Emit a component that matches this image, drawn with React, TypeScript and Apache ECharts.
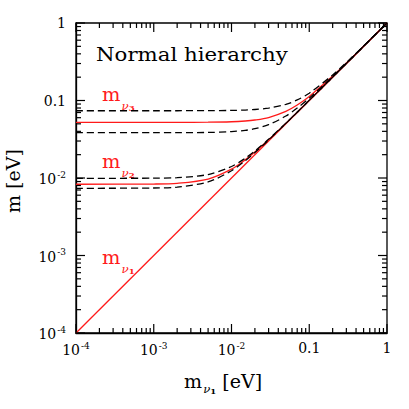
import React, { useEffect, useRef } from "react";
import * as echarts from "echarts";

const X_MIN = 1e-4;
const X_MAX = 1;
const Y_MIN = 1e-4;
const Y_MAX = 1;

const xs = [1e-4, 1e-3, 2e-3, 5e-3, 1e-2, 1.5e-2, 2e-2, 3e-2, 5e-2, 7e-2, 0.1, 0.2, 0.3, 0.5, 1];

const m3Mid = [0.0523, 0.0523, 0.0523, 0.0525, 0.0532, 0.0544, 0.056, 0.0603, 0.0724, 0.0874, 0.1128, 0.2067, 0.3045, 0.5027, 1.0007];
const m3Up = [0.0738, 0.0738, 0.0738, 0.074, 0.0745, 0.0753, 0.0765, 0.0797, 0.0891, 0.1017, 0.1243, 0.2132, 0.3089, 0.5054, 1.0027];
const m3Lo = [0.0384, 0.0384, 0.0385, 0.0387, 0.0397, 0.0412, 0.0433, 0.0487, 0.063, 0.0798, 0.1071, 0.2037, 0.3024, 0.5015, 1.0007];

const m2Mid = [0.0083, 0.00836, 0.00854, 0.00969, 0.013, 0.01714, 0.02165, 0.03113, 0.05068, 0.0705, 0.10034, 0.20017, 0.30011, 0.50007, 1.0];
const m2Up = [0.0099, 0.00995, 0.0101, 0.01109, 0.01407, 0.01797, 0.02232, 0.03159, 0.05097, 0.0707, 0.10049, 0.20024, 0.30016, 0.5001, 1.0];
const m2Lo = [0.00736, 0.00743, 0.00763, 0.0089, 0.01242, 0.01671, 0.02131, 0.03089, 0.05054, 0.0705, 0.10027, 0.2001, 0.3001, 0.5001, 1.0];

const m1X = [1e-4, 1];
const m1Y = [1e-4, 1];

const decades = [1e-4, 1e-3, 1e-2, 0.1];
const minorMultipliers = [2, 3, 4, 5, 6, 7, 8, 9];
const majorTicks = [1e-4, 1e-3, 1e-2, 0.1, 1];

const tickLabels: Record<string, string> = {
  "-4": "{b|10}{s|-4}",
  "-3": "{b|10}{s|-3}",
  "-2": "{b|10}{s|-2}",
  "-1": "{b|0.1}",
  "0": "{b|1}",
};

const FONT = "DejaVu Serif";

function pairs(x: number[], y: number[]) {
  return x.map((v, i) => [v, y[i]]);
}

function subLabel(x: number, y: number, idx: string, color: string) {
  return {
    type: "text",
    x,
    y,
    scaleX: 1.08,
    style: {
      text: "{m|m}{n|ν}{k|" + idx + "}",
      rich: {
        m: { fontSize: 18, fontFamily: FONT, fill: color, verticalAlign: "top" },
        n: { fontSize: 11, fontFamily: FONT, fill: color, fontStyle: "italic", padding: [14, 0, 0, 1] },
        k: { fontSize: 8, fontFamily: FONT, fill: color, fontWeight: "bold", padding: [18, 0, 0, 0] },
      },
    },
  };
}

export default function App() {
  const ref = useRef<HTMLDivElement>(null);
  useEffect(() => {
    if (!ref.current) return;
    const chart = echarts.init(ref.current, null, { renderer: "svg" });

    const minorVals: number[] = [];
    decades.forEach((d) => minorMultipliers.forEach((m) => minorVals.push(d * m)));

    const tickData: number[][] = [];
    majorTicks.forEach((v) => {
      tickData.push([v, Y_MIN, 0, 9]);
      tickData.push([X_MIN, v, 1, 9]);
    });
    minorVals.forEach((v) => {
      tickData.push([v, Y_MIN, 0, 5]);
      tickData.push([X_MIN, v, 1, 5]);
    });

    const rich = {
      b: { fontSize: 14, fontFamily: FONT, color: "#000", verticalAlign: "bottom" },
      s: { fontSize: 9, fontFamily: FONT, color: "#000", verticalAlign: "bottom", padding: [0, 0, 7, 1] },
    };
    const fmt = (v: number) => tickLabels[String(Math.round(Math.log10(v)))] || "";

    const red = "#ff1a1a";
    const dashStyle = { color: "#000", width: 1.3, type: [7, 4] as any };

    chart.setOption({
      animation: false,
      backgroundColor: "#fff",
      grid: {
        left: 76,
        right: 22,
        top: 23,
        bottom: 76,
        show: true,
        borderColor: "#000",
        borderWidth: 1.3,
        outerBoundsMode: "none",
      },
      xAxis: {
        type: "log",
        logBase: 10,
        min: X_MIN,
        max: X_MAX,
        axisLine: { lineStyle: { color: "#000", width: 1.3 } },
        axisTick: { show: false },
        splitLine: { show: false },
        axisLabel: { formatter: fmt, rich, margin: 8 },
      },
      yAxis: {
        type: "log",
        logBase: 10,
        min: Y_MIN,
        max: Y_MAX,
        axisLine: { show: true, lineStyle: { color: "#000", width: 1.3 } },
        axisTick: { show: false },
        splitLine: { show: false },
        axisLabel: { formatter: fmt, rich, margin: 10 },
      },
      graphic: [
        {
          type: "text",
          x: 96,
          y: 45,
          scaleX: 1.12,
          style: { text: "Normal hierarchy", fontSize: 19, fontFamily: FONT, fill: "#000" },
        },
        subLabel(102, 86, "3", red),
        subLabel(102, 153, "2", red),
        subLabel(102, 249, "1", red),
        {
          type: "text",
          x: 184,
          y: 369,
          scaleX: 1.06,
          style: {
            text: "{m|m}{n|ν}{k|1}{e| [eV]}",
            rich: {
              m: { fontSize: 18, fontFamily: FONT, fill: "#000" },
              n: { fontSize: 11, fontFamily: FONT, fill: "#000", fontStyle: "italic", padding: [14, 0, 0, 1] },
              k: { fontSize: 8, fontFamily: FONT, fill: "#000", fontWeight: "bold", padding: [18, 0, 0, 0] },
              e: { fontSize: 18, fontFamily: FONT, fill: "#000" },
            },
          },
        },
        {
          type: "text",
          x: 3,
          y: 213,
          rotation: Math.PI / 2,
          style: { text: "m [eV]", fontSize: 19, fontFamily: FONT, fill: "#000" },
        },
      ],
      series: [
        {
          type: "line",
          data: pairs(m1X, m1Y),
          showSymbol: false,
          lineStyle: { color: red, width: 1.3 },
          z: 2,
        },
        {
          type: "line",
          data: pairs(xs, m2Mid),
          showSymbol: false,
          smooth: 0.3,
          lineStyle: { color: red, width: 1.3 },
          z: 2,
        },
        {
          type: "line",
          data: pairs(xs, m3Mid),
          showSymbol: false,
          smooth: 0.3,
          lineStyle: { color: red, width: 1.3 },
          z: 2,
        },
        ...[m3Up, m3Lo, m2Up, m2Lo].map((ys) => ({
          type: "line",
          data: pairs(xs, ys),
          showSymbol: false,
          smooth: 0.3,
          lineStyle: dashStyle,
          z: 3,
        })),
        {
          type: "custom",
          silent: true,
          z: 5,
          encode: { x: 0, y: 1 },
          data: tickData,
          renderItem: (params: any, api: any) => {
            const kind = api.value(2);
            const len = api.value(3);
            const st = { stroke: "#000", lineWidth: 1.2 };
            if (kind === 0) {
              const b = api.coord([api.value(0), Y_MIN]);
              const t = api.coord([api.value(0), Y_MAX]);
              return {
                type: "group",
                children: [
                  { type: "line", shape: { x1: b[0], y1: b[1], x2: b[0], y2: b[1] - len }, style: st },
                  { type: "line", shape: { x1: t[0], y1: t[1], x2: t[0], y2: t[1] + len }, style: st },
                ],
              };
            }
            const l = api.coord([X_MIN, api.value(1)]);
            const r = api.coord([X_MAX, api.value(1)]);
            return {
              type: "group",
              children: [
                { type: "line", shape: { x1: l[0], y1: l[1], x2: l[0] + len, y2: l[1] }, style: st },
                { type: "line", shape: { x1: r[0], y1: r[1], x2: r[0] - len, y2: r[1] }, style: st },
              ],
            };
          },
        },
      ],
    });
    return () => chart.dispose();
  }, []);
  return (
    <div
      ref={ref}
      style={{ position: "fixed", left: 0, top: 0, width: 409, height: 409, background: "#fff" }}
    />
  );
}
